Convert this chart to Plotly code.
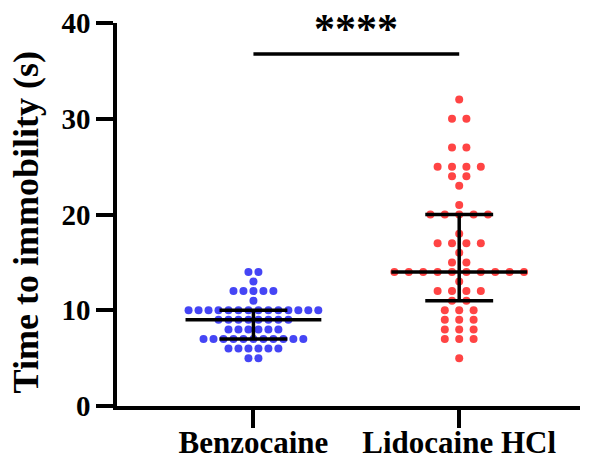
import numpy as np
import plotly.graph_objects as go

groups = ["Benzocaine", "Lidocaine HCl"]
# value levels and number of animals at each level
benzo_levels = [5, 6, 7, 8, 9, 10, 11, 12, 13, 14]
benzo_counts = [2, 6, 11, 6, 8, 14, 1, 5, 1, 2]
lido_levels = [5, 7, 8, 9, 10, 11, 12, 13, 14, 15, 16, 17, 18, 20, 21, 23, 24, 25, 27, 30, 32]
lido_counts = [1, 3, 3, 3, 3, 2, 4, 1, 10, 2, 1, 4, 1, 5, 1, 1, 2, 4, 2, 2, 1]
yticks = [0, 10, 20, 30, 40]
y_title = "Time to immobility (s)"
sig_label = "****"
sig_y = 36.75

colors = ["#4545F5", "#FF4444"]
spacing = [0.0485, 0.07]

fig = go.Figure()

datasets = [(benzo_levels, benzo_counts), (lido_levels, lido_counts)]
for gi, (levels, counts) in enumerate(datasets):
    xs, ys = [], []
    for v, n in zip(levels, counts):
        for i in range(n):
            xs.append(gi + (i - (n - 1) / 2) * spacing[gi])
            ys.append(v)
    vals = np.repeat(levels, counts)
    med = np.median(vals)
    q1, q3 = np.percentile(vals, [25, 75])
    fig.add_trace(go.Scatter(x=xs, y=ys, mode="markers",
                             marker=dict(color=colors[gi], size=8, line=dict(width=0)),
                             showlegend=False, hoverinfo="skip"))
    lw = 3.5
    fig.add_trace(go.Scatter(x=[gi - 0.33, gi + 0.33], y=[med, med], mode="lines",
                             line=dict(color="black", width=lw), showlegend=False))
    fig.add_trace(go.Scatter(x=[gi - 0.165, gi + 0.165], y=[q1, q1], mode="lines",
                             line=dict(color="black", width=lw), showlegend=False))
    fig.add_trace(go.Scatter(x=[gi - 0.165, gi + 0.165], y=[q3, q3], mode="lines",
                             line=dict(color="black", width=lw), showlegend=False))
    fig.add_trace(go.Scatter(x=[gi, gi], y=[q1, q3], mode="lines",
                             line=dict(color="black", width=lw), showlegend=False))

fig.add_trace(go.Scatter(x=[0, 1], y=[sig_y, sig_y], mode="lines",
                         line=dict(color="black", width=3.5), showlegend=False))
fig.add_annotation(x=0.5, y=sig_y, text=sig_label, showarrow=False,
                   yanchor="bottom", yshift=0,
                   font=dict(family="Liberation Serif", size=42, color="black", weight=700))

font_family = "Liberation Serif"
fig.add_annotation(xref="paper", yref="paper", x=-0.196, y=0.48, text=y_title,
                   textangle=-90, showarrow=False, xanchor="center", yanchor="middle",
                   font=dict(family=font_family, size=36, color="black", weight=700))

fig.update_layout(
    width=592, height=461,
    margin=dict(l=117, r=12, t=23, b=55),
    plot_bgcolor="white", paper_bgcolor="white",
    font=dict(family=font_family, color="black"),
)
fig.update_xaxes(
    range=[-0.663, 1.587], tickvals=[0, 1], ticktext=groups,
    showline=True, linecolor="black", linewidth=3.5,
    ticks="outside", ticklen=18, tickwidth=3.5, tickcolor="black",
    tickfont=dict(family=font_family, size=31, color="black", weight=700),
    ticklabelstandoff=-12,
    showgrid=False, zeroline=False, automargin=False,
)
fig.update_yaxes(
    range=[0, 40], tickvals=yticks,
    showline=True, linecolor="black", linewidth=3.5,
    ticks="outside", ticklen=17, tickwidth=3.5, tickcolor="black",
    tickfont=dict(family=font_family, size=29, color="black", weight=700),
    showgrid=False, zeroline=False, automargin=False,
)

fig.write_html("out.html")
